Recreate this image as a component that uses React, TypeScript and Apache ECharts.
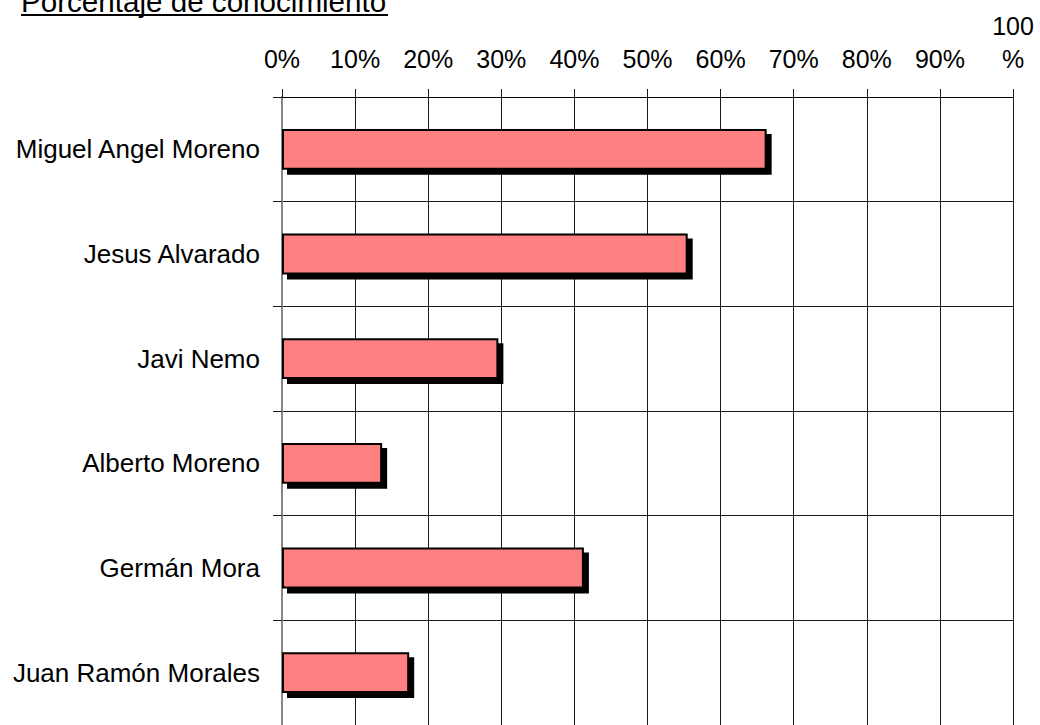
import React, { useEffect, useRef } from "react";
import * as echarts from "echarts";

const titleText = "Porcentaje de conocimiento";
const categories = [
  "Miguel Angel Moreno",
  "Jesus Alvarado",
  "Javi Nemo",
  "Alberto Moreno",
  "Germán Mora",
  "Juan Ramón Morales",
];
const values = [66.3, 55.5, 29.6, 13.7, 41.3, 17.4];
const tickLabels = ["0%", "10%", "20%", "30%", "40%", "50%", "60%", "70%", "80%", "90%", "100\n%"];

const FONT = '"Liberation Sans", Arial, sans-serif';

export default function App() {
  const ref = useRef<HTMLDivElement>(null);
  useEffect(() => {
    if (!ref.current) return;
    const chart = echarts.init(ref.current, undefined, { renderer: "svg" });
    chart.setOption({
      animation: false,
      backgroundColor: "#ffffff",
      graphic: [
        {
          type: "text",
          x: 21,
          y: 1.7,
          style: {
            text: titleText,
            font: `29.6px ${FONT}`,
            fill: "#000",
            verticalAlign: "middle",
            align: "left",
          },
        },
        {
          type: "line",
          shape: { x1: 21, y1: 15, x2: 388, y2: 15 },
          style: { stroke: "#000", lineWidth: 2 },
        },
      ],
      grid: { left: 282, top: 97, width: 731, height: 633, containLabel: false },
      xAxis: {
        type: "value",
        position: "top",
        min: 0,
        max: 100,
        interval: 10,
        axisLine: { show: true, lineStyle: { color: "#000", width: 1 } },
        axisTick: { show: true, inside: false, length: 8, lineStyle: { color: "#1a1a1a", width: 1 } },
        splitLine: { show: true, lineStyle: { color: "#1a1a1a", width: 1 } },
        axisLabel: {
          margin: 22,
          fontSize: 25,
          lineHeight: 33,
          fontFamily: FONT,
          color: "#000",
          formatter: (v: number) => tickLabels[Math.round(v / 10)],
        },
      },
      yAxis: {
        type: "category",
        inverse: true,
        data: categories,
        axisLine: { show: true, lineStyle: { color: "#888", width: 2 } },
        axisTick: { show: true, length: 9, alignWithLabel: false, lineStyle: { color: "#1a1a1a", width: 1 } },
        splitLine: { show: true, lineStyle: { color: "#1a1a1a", width: 1 } },
        axisLabel: {
          margin: 22,
          fontSize: 26,
          fontFamily: FONT,
          color: "#000",
        },
      },
      series: [
        {
          type: "bar",
          data: values,
          barWidth: "39%",
          itemStyle: {
            color: "#FF8080",
            borderColor: "#000",
            borderWidth: 2,
            shadowColor: "#000",
            shadowBlur: 0,
            shadowOffsetX: 5,
            shadowOffsetY: 5,
          },
        },
      ],
    });
    return () => chart.dispose();
  }, []);
  return (
    <div
      ref={ref}
      style={{ position: "fixed", left: 0, top: 0, width: 1040, height: 725, background: "#fff" }}
    />
  );
}
